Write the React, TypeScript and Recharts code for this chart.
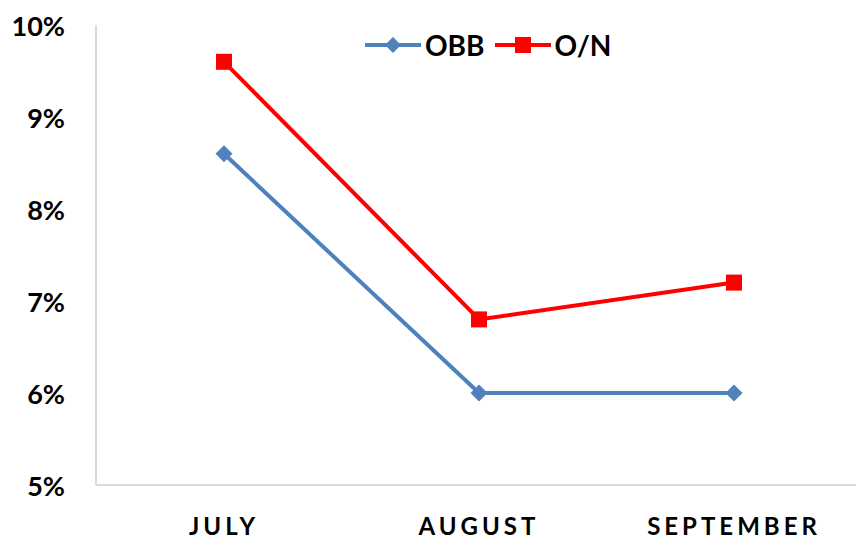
import React from "react";
import { LineChart, Line, XAxis, YAxis } from "recharts";

const months = ["JULY", "AUGUST", "SEPTEMBER"];
const obb = [8.6, 6.0, 6.0];
const overnight = [9.6, 6.8, 7.2];
const yTicks = [5, 6, 7, 8, 9, 10];

const data = months.map((month, i) => ({ month, obb: obb[i], on: overnight[i] }));

const BLUE = "#4f81bd";
const RED = "#ff0000";
const FONT = "Lato, 'Open Sans', sans-serif";

const Diamond = (props: any) => {
  const { cx, cy } = props;
  if (cx == null || cy == null) return null;
  const r = 8.5;
  return (
    <polygon
      points={`${cx},${cy - r} ${cx + r},${cy} ${cx},${cy + r} ${cx - r},${cy}`}
      fill={BLUE}
    />
  );
};

const Square = (props: any) => {
  const { cx, cy } = props;
  if (cx == null || cy == null) return null;
  return <rect x={cx - 8} y={cy - 8} width={16} height={16} fill={RED} />;
};

const YTick = (props: any) => {
  const { x, y, payload } = props;
  return (
    <text
      x={x - 23}
      y={y}
      textAnchor="end"
      dominantBaseline="central"
      fontFamily={FONT}
      fontWeight="bold"
      fontSize={27}
      fill="#000"
    >
      {`${payload.value}%`}
    </text>
  );
};

const XTick = (props: any) => {
  const { x, y, payload } = props;
  return (
    <text
      x={x}
      y={y + 32}
      textAnchor="middle"
      dominantBaseline="central"
      fontFamily={FONT}
      fontWeight="bold"
      fontSize={24}
      letterSpacing={4}
      fill="#000"
    >
      {payload.value}
    </text>
  );
};

// legend drawn as an overlay so it does not push the plot area down
const ChartLegend = () => {
  const item = (label: string, color: string, marker: React.ReactNode) => (
    <div style={{ display: "flex", alignItems: "center", marginRight: 10 }}>
      <svg width={56} height={20}>
        <line x1={0} y1={10} x2={56} y2={10} stroke={color} strokeWidth={4} />
        {marker}
      </svg>
      <span
        style={{
          fontFamily: FONT,
          fontWeight: "bold",
          fontSize: 28,
          color: "#000",
          marginLeft: 4,
          lineHeight: "30px",
        }}
      >
        {label}
      </span>
    </div>
  );
  return (
    <div
      style={{
        position: "absolute",
        left: 365,
        top: 30,
        display: "flex",
        alignItems: "center",
      }}
    >
      {item("OBB", BLUE, <polygon points="28,2 36,10 28,18 20,10" fill={BLUE} />)}
      {item("O/N", RED, <rect x={20} y={2} width={16} height={16} fill={RED} />)}
    </div>
  );
};

export default function App() {
  return (
    <div
      style={{
        position: "absolute",
        left: 0,
        top: 0,
        width: 856,
        height: 538,
        overflow: "hidden",
        background: "#fff",
      }}
    >
      <LineChart
        width={870}
        height={538}
        data={data}
        margin={{ top: 25, right: 8, bottom: 0, left: 0 }}
      >
        <XAxis
          dataKey="month"
          axisLine={{ stroke: "#d9d9d9", strokeWidth: 2 }}
          tickLine={false}
          tick={<XTick />}
          height={53}
          padding={{ left: 128, right: 128 }}
        />
        <YAxis
          domain={[5, 10]}
          ticks={yTicks}
          axisLine={{ stroke: "#d9d9d9", strokeWidth: 2 }}
          tickLine={false}
          tick={<YTick />}
          width={96}
        />
        <Line
          dataKey="obb"
          stroke={BLUE}
          strokeWidth={4}
          dot={<Diamond />}
          activeDot={false}
          isAnimationActive={false}
        />
        <Line
          dataKey="on"
          stroke={RED}
          strokeWidth={4}
          dot={<Square />}
          activeDot={false}
          isAnimationActive={false}
        />
      </LineChart>
      <ChartLegend />
    </div>
  );
}
